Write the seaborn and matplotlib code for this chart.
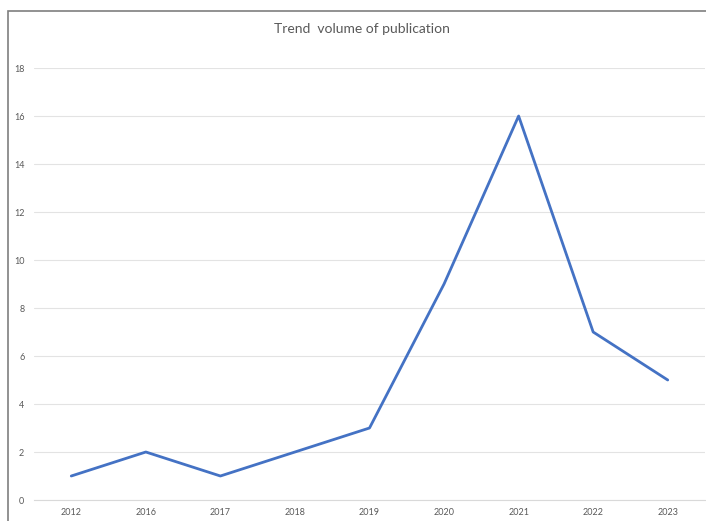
import pandas as pd
import seaborn as sns
import matplotlib.pyplot as plt
from matplotlib.patches import Rectangle

years = ['2012', '2016', '2017', '2018', '2019', '2020', '2021', '2022', '2023']
counts = [1, 2, 1, 2, 3, 9, 16, 7, 5]

df = pd.DataFrame({'Year': years, 'Publications': counts})

sns.set_style('white')
plt.rcParams['font.family'] = ['Lato', 'DejaVu Sans']

fig = plt.figure(figsize=(7.06, 5.21), dpi=100)
ax = fig.add_axes([34 / 706, 1 - 500 / 521, 671 / 706, 432 / 521])

sns.lineplot(data=df, x='Year', y='Publications', ax=ax, color='#4472C4',
             linewidth=2, sort=False)

ax.set_xlim(-0.5, len(years) - 0.5)
ax.set_ylim(0, 18)
ax.set_yticks(range(0, 19, 2))
ax.grid(axis='y', color='#e3e3e3', linewidth=0.8)
ax.set_axisbelow(True)
for s in ax.spines.values():
    s.set_visible(False)
ax.spines['bottom'].set_visible(True)
ax.spines['bottom'].set_color('#d9d9d9')
ax.spines['bottom'].set_linewidth(0.8)
ax.tick_params(axis='both', length=0, labelsize=6.5, labelcolor='#595959', pad=6)
ax.tick_params(axis='y', pad=7)
ax.set_xlabel('')
ax.set_ylabel('')

# chart frame like the screenshot
fig.patches.append(Rectangle((8 / 706, -0.1), 1.1, 1 - 11 / 521 + 0.1,
                             transform=fig.transFigure, fill=False,
                             edgecolor='#7f7f7f', linewidth=1.2))

fig.text(362 / 706, 1 - 29 / 521, 'Trend  volume of publication', ha='center',
         va='center', fontsize=10, color='#595959')

fig.savefig('out.png', dpi=100)
